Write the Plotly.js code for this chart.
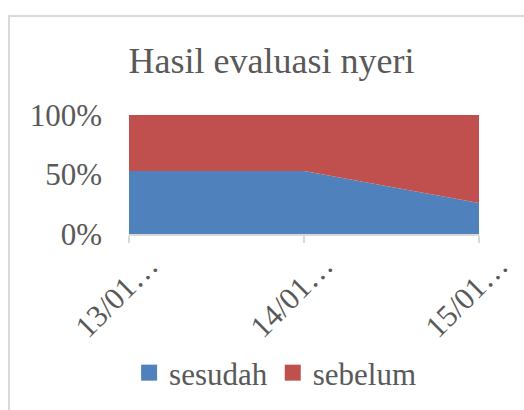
<!DOCTYPE html>
<html>
<head>
<meta charset="utf-8">
<script src="https://cdn.plot.ly/plotly-3.0.1.min.js"></script>
<style>
  html, body { margin: 0; padding: 0; background: #fff; overflow: hidden; }
  #chart { position: absolute; left: 0; top: 0; width: 524px; height: 410px; }
  #chart text { font-family: "Liberation Serif" !important; }
  #frame { position: absolute; left: 8px; top: 15px; width: 600px; height: 500px;
           border-left: 2px solid #D9D9D9; border-top: 2px solid #D9D9D9; pointer-events: none; }
</style>
</head>
<body>
<div id="chart"></div>
<div id="frame"></div>
<script>
const categories = ["13/01…", "14/01…", "15/01…"];
const sesudah = [53, 53, 26];
const sebelum = [47, 47, 74];
const seriesNames = ["sesudah", "sebelum"];
const seriesColors = ["#4F81BD", "#C0504D"];
const yTickVals = [0, 50, 100];

const FONT = "Liberation Serif";
const TXT = "#595959";

const traces = [sesudah, sebelum].map((vals, i) => ({
  type: "scatter",
  x: categories,
  y: vals,
  name: seriesNames[i],
  mode: "lines",
  stackgroup: "one",
  groupnorm: "percent",
  line: { width: 0, color: seriesColors[i] },
  fillcolor: seriesColors[i],
  hoverinfo: "skip",
  showlegend: false
}));

// legend entries as square markers
seriesNames.forEach((n, i) => {
  traces.push({
    type: "scatter", x: [null], y: [null], name: n, mode: "markers",
    marker: { symbol: "square", size: 16, color: seriesColors[i] },
    hoverinfo: "skip", showlegend: true
  });
});

const layout = {
  width: 524, height: 410,
  margin: { l: 129, r: 45, t: 115, b: 176, pad: 0 },
  paper_bgcolor: "#fff", plot_bgcolor: "#fff",
  font: { family: FONT, color: TXT, size: 31 },
  title: {
    text: "Hasil evaluasi nyeri",
    font: { family: FONT, color: TXT, size: 36 },
    xref: "container", x: 0.518, xanchor: "center",
    yref: "container", y: 1 - 60 / 410, yanchor: "middle"
  },
  xaxis: {
    type: "category",
    range: [0, 2],
    showgrid: false, zeroline: false,
    showline: true, linecolor: "#D9D9D9", linewidth: 2,
    ticks: "outside", ticklen: 7, tickcolor: "#D9D9D9", tickwidth: 2,
    tickangle: -45,
    ticklabelshift: 20,
    ticklabelstandoff: -8,
    tickfont: { family: FONT, color: TXT, size: 31 },
    fixedrange: true
  },
  yaxis: {
    range: [0, 100],
    tickvals: yTickVals,
    ticktext: yTickVals.map(v => v + "%"),
    showgrid: false, zeroline: false, showline: false,
    ticks: "",
    ticklabelstandoff: 26,
    tickfont: { family: FONT, color: TXT, size: 31 },
    fixedrange: true
  },
  showlegend: true,
  legend: {
    orientation: "h",
    traceorder: "normal",
    xref: "container", x: 0.525, xanchor: "center",
    yref: "container", y: 1 - 373 / 410, yanchor: "middle",
    font: { family: FONT, color: TXT, size: 31 },
    itemwidth: 30,
    tracegroupgap: 0,
    bgcolor: "rgba(0,0,0,0)"
  }
};

Plotly.newPlot("chart", traces, layout, { displayModeBar: false, staticPlot: true });
</script>
</body>
</html>
